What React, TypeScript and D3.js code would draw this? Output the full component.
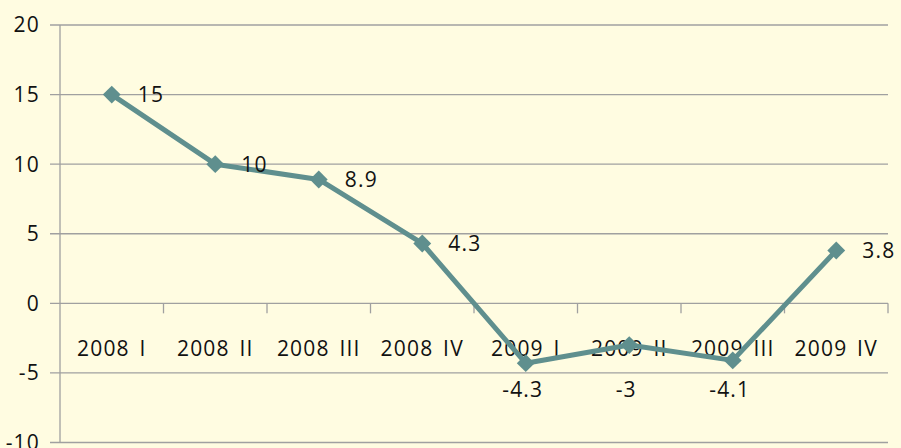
import { useEffect, useRef } from 'react';
import * as d3 from 'd3';

const categories = ['2008 I', '2008 II', '2008 III', '2008 IV', '2009 I', '2009 II', '2009 III', '2009 IV'];
const values = [15, 10, 8.9, 4.3, -4.3, -3, -4.1, 3.8];
const yTicks = [-10, -5, 0, 5, 10, 15, 20];

export default function App() {
  const ref = useRef<SVGSVGElement | null>(null);

  useEffect(() => {
    const el = ref.current;
    if (!el) return;
    const svg = d3.select(el);
    svg.selectAll('*').remove();

    const w = 901;
    const h = 448;
    const m = { t: 25, r: 13, b: 5.5, l: 60 };
    const font = '"Open Sans", "Noto Sans", sans-serif';
    const fs = 21;
    const ls = 1.2;
    const lineColor = '#5f8f8e';
    const gridColor = '#a0a0a0';

    svg.append('rect').attr('width', w).attr('height', h).attr('fill', '#fffce1');

    const x = d3.scaleBand().domain(categories).range([m.l, w - m.r]);
    const y = d3.scaleLinear().domain([-10, 20]).range([h - m.b, m.t]);

    // gridlines
    svg.append('g')
      .selectAll('line')
      .data(yTicks)
      .join('line')
      .attr('x1', m.l - 10)
      .attr('x2', w - m.r)
      .attr('y1', d => y(d))
      .attr('y2', d => y(d))
      .attr('stroke', gridColor)
      .attr('stroke-width', 1.3);

    // y axis
    svg.append('line')
      .attr('x1', m.l).attr('x2', m.l)
      .attr('y1', y(20)).attr('y2', y(-10))
      .attr('stroke', gridColor).attr('stroke-width', 1.3);

    svg.append('g')
      .selectAll('text')
      .data(yTicks)
      .join('text')
      .attr('x', m.l - 20)
      .attr('y', d => y(d))
      .attr('dy', '0.35em')
      .attr('text-anchor', 'end')
      .attr('font-family', font)
      .attr('font-size', fs)
      .attr('letter-spacing', ls)
      .attr('fill', '#111')
      .text(d => d);

    // category ticks on zero line
    const edges = categories.map(c => (x(c) as number) + x.bandwidth());
    svg.append('g')
      .selectAll('line')
      .data(edges)
      .join('line')
      .attr('x1', d => d).attr('x2', d => d)
      .attr('y1', y(0)).attr('y2', y(0) + 10)
      .attr('stroke', gridColor).attr('stroke-width', 1.3);

    svg.append('g')
      .selectAll('text')
      .data(categories)
      .join('text')
      .attr('x', d => (x(d) as number) + x.bandwidth() / 2)
      .attr('y', y(0) + 45)
      .attr('dy', '0.35em')
      .attr('text-anchor', 'middle')
      .attr('font-family', font)
      .attr('font-size', fs)
      .attr('letter-spacing', ls)
      .attr('word-spacing', 3)
      .attr('fill', '#111')
      .text(d => d);

    const cx = (i: number) => (x(categories[i]) as number) + x.bandwidth() / 2;

    const line = d3.line<number>()
      .x((_, i) => cx(i))
      .y(d => y(d));

    svg.append('path')
      .datum(values)
      .attr('d', line)
      .attr('fill', 'none')
      .attr('stroke', lineColor)
      .attr('stroke-width', 5)
      .attr('stroke-linejoin', 'round');

    svg.append('g')
      .selectAll('path')
      .data(values)
      .join('path')
      .attr('transform', (d, i) => `translate(${cx(i)},${y(d)}) rotate(45)`)
      .attr('d', d3.symbol().type(d3.symbolSquare).size(160)())
      .attr('fill', lineColor);

    // data labels: right of point when positive, below the category labels when negative
    svg.append('g')
      .selectAll('text')
      .data(values)
      .join('text')
      .attr('x', (d, i) => (d >= 0 ? cx(i) + 26 : cx(i) - 3))
      .attr('y', d => (d >= 0 ? y(d) : Math.max(y(d) + 26, y(0) + 86)))
      .attr('dy', '0.35em')
      .attr('text-anchor', d => (d >= 0 ? 'start' : 'middle'))
      .attr('font-family', font)
      .attr('font-size', fs)
      .attr('letter-spacing', ls)
      .attr('fill', '#111')
      .text(d => d);
  }, []);

  return (
    <svg
      ref={ref}
      width={901}
      height={448}
      style={{ position: 'absolute', left: 0, top: 0, display: 'block' }}
    />
  );
}
